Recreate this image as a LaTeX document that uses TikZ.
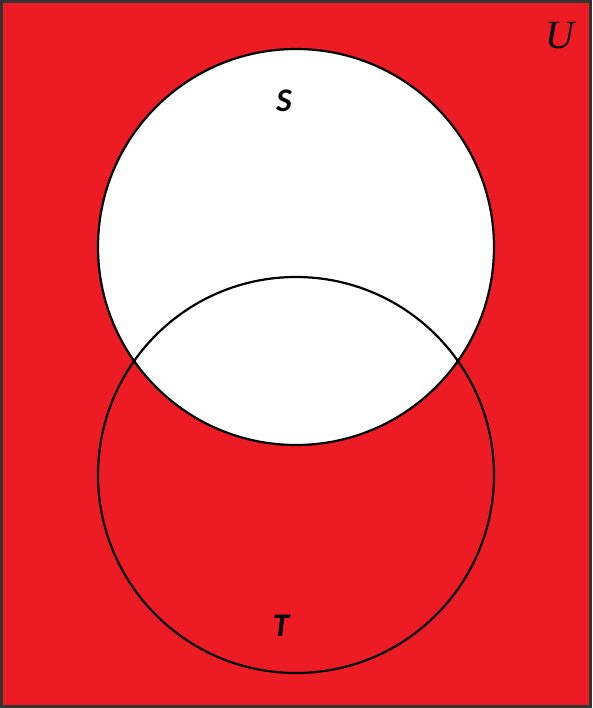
\documentclass[tikz,border=0pt]{standalone}
\usepackage{fontspec}
\setmainfont{Liberation Serif}
\newfontfamily\carl{Carlito}
\definecolor{vred}{RGB}{237,28,36}
\tikzset{setcircle/.style={draw=black,line width=2.2pt},
  lbl/.style={font=\carl\bfseries\itshape\fontsize{33}{33}\selectfont,inner sep=0pt}}
\begin{document}
\begin{tikzpicture}[x=1pt,y=-1pt]
\useasboundingbox (0,0) rectangle (592,708);
\fill[vred] (0,0) rectangle (592,708);
\draw[line width=3pt,black!80] (1.5,1.5) rectangle (590.5,706.5);
\node[setcircle,circle,fill=white,minimum size=396pt,inner sep=0pt] (S) at (296,247) {};
\node[setcircle,circle,minimum size=396pt,inner sep=0pt] (T) at (296,475) {};
\node[lbl] (Sl) at (284,101) {S};
\node[lbl] (Tl) at (281,626) {T};
\node[font=\itshape\fontsize{40}{40}\selectfont,inner sep=0pt] (U) at (560,36) {U};
\end{tikzpicture}
\end{document}
